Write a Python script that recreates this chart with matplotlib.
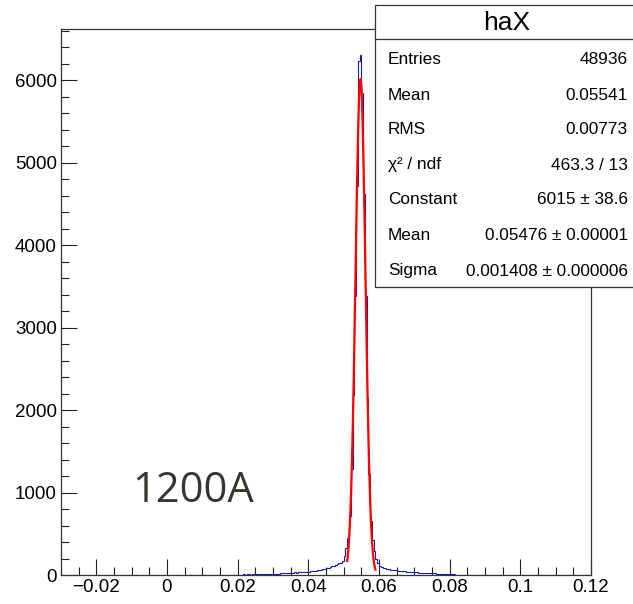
import numpy as np
import matplotlib
matplotlib.use("Agg")
from matplotlib import pyplot as plt
from matplotlib.patches import Rectangle
from matplotlib.lines import Line2D
from matplotlib.ticker import MultipleLocator

# histogram haX: 300 bins from -0.03 to 0.12
x_min, x_max, n_bins = -0.03, 0.12, 300
counts = [
    # -0.03 .. -0.02
    0, 0, 0, 0, 0, 0, 0, 0, 0, 0, 0, 0, 0, 0, 0, 0, 0, 0, 0, 0,
    # -0.02 .. -0.01
    0, 0, 0, 0, 0, 0, 0, 0, 0, 0, 0, 0, 0, 0, 0, 0, 0, 0, 0, 0,
    # -0.01 .. 0
    0, 0, 1, 0, 0, 0, 0, 0, 0, 0, 0, 0, 0, 0, 0, 0, 0, 0, 0, 0,
    # 0 .. 0.01
    0, 0, 0, 0, 0, 1, 0, 0, 0, 0, 1, 0, 0, 1, 0, 1, 0, 0, 0, 0,
    # 0.01 .. 0.02
    2, 3, 2, 4, 3, 2, 3, 4, 3, 2, 4, 3, 5, 3, 4, 4, 3, 5, 4, 5,
    # 0.02 .. 0.03
    5, 6, 4, 7, 6, 8, 7, 6, 9, 8, 7, 10, 9, 11, 10, 12, 11, 13, 12, 14,
    # 0.03 .. 0.04
    15, 16, 18, 17, 20, 21, 22, 24, 23, 26, 28, 30, 31, 29, 33, 34, 36, 35, 38, 40,
    # 0.04 .. 0.05
    42, 45, 47, 50, 54, 58, 62, 66, 72, 78, 84, 90, 97, 104, 112, 120, 130, 140, 150, 175,
    # 0.05 .. 0.06
    230, 330, 450, 720, 1290, 2180, 3380, 4720, 6230, 6310,
    5850, 4620, 3380, 2150, 1230, 650, 420, 290, 200, 140,
    # 0.06 .. 0.07
    105, 92, 85, 80, 75, 70, 66, 62, 58, 55, 52, 50, 47, 45, 43, 41, 39, 37, 35, 33,
    # 0.07 .. 0.08
    32, 31, 30, 28, 27, 26, 25, 24, 23, 22, 21, 20, 18, 17, 15, 14, 12, 11, 10, 9,
    # 0.08 .. 0.09
    8, 7, 7, 6, 6, 5, 6, 5, 5, 4, 5, 4, 4, 5, 3, 4, 4, 3, 4, 3,
    # 0.09 .. 0.1
    3, 4, 3, 3, 2, 3, 3, 2, 3, 2, 3, 2, 2, 3, 2, 2, 3, 2, 2, 2,
    # 0.1 .. 0.11
    2, 2, 1, 2, 2, 1, 2, 1, 2, 1, 2, 1, 1, 2, 1, 1, 2, 1, 1, 1,
    # 0.11 .. 0.12
    1, 1, 2, 1, 1, 0, 1, 1, 0, 1, 1, 0, 1, 1, 0, 1, 0, 1, 1, 0,
]
first_filled = 80  # continuous line starts at x = 0.01

# gaussian fit
fit_const = 6015.0
fit_mean = 0.05476
fit_sigma = 0.001408
fit_range = (0.051, 0.059)

x_ticks = [-0.02, 0, 0.02, 0.04, 0.06, 0.08, 0.1, 0.12]
x_tick_labels = ["\u22120.02", "0", "0.02", "0.04", "0.06", "0.08", "0.1", "0.12"]
y_ticks = [0, 1000, 2000, 3000, 4000, 5000, 6000]
y_max = 6620

stats_title = "haX"
stats_labels = ["Entries", "Mean", "RMS", "\u03c7\u00b2 / ndf", "Constant", "Mean", "Sigma"]
stats_values = ["48936", "0.05541", "0.00773", "463.3 / 13",
                "6015 \u00b1 38.6", "0.05476 \u00b1 0.00001", "0.001408 \u00b1 0.000006"]
note = "1200A"

W, H = 633, 604
plt.rcParams["font.family"] = ["Liberation Sans", "DejaVu Sans"]

fig = plt.figure(figsize=(W / 100, H / 100), dpi=100)
ax = fig.add_axes([61 / W, 1 - 575 / H, 530 / W, 546 / H])

counts = np.array(counts, dtype=float)
edges = np.linspace(x_min, x_max, n_bins + 1)
hist_color = "#1c1c9c"

ax.stairs(counts[first_filled:], edges[first_filled:], color=hist_color,
          lw=0.8, zorder=3, baseline=None)
for i in range(first_filled):
    if counts[i] > 0:
        ax.hlines(counts[i], edges[i], edges[i + 1], color=hist_color, lw=1.0, zorder=3)

xf = np.linspace(fit_range[0], fit_range[1], 100)
yf = fit_const * np.exp(-0.5 * ((xf - fit_mean) / fit_sigma) ** 2)
ax.plot(xf, yf, color="red", lw=1.6, zorder=4)

ax.set_xlim(x_min, x_max)
ax.set_ylim(0, y_max)
ax.set_xticks(x_ticks)
ax.set_xticklabels(x_tick_labels)
ax.set_yticks(y_ticks)
ax.xaxis.set_minor_locator(MultipleLocator(0.005))
ax.yaxis.set_minor_locator(MultipleLocator(200))
ax.tick_params(which="both", direction="in", top=False, right=False,
               color="#222222", width=0.8, labelsize=13.5)
ax.tick_params(which="major", length=11.5)
ax.tick_params(which="minor", length=5.8)
ax.tick_params(axis="x", pad=3)
ax.tick_params(axis="y", pad=3)
for s in ax.spines.values():
    s.set_color("#333333")
    s.set_linewidth(0.9)

# stats box
def fx(px):
    return px / W

def fy(py):
    return 1 - py / H

box = Rectangle((fx(375), fy(287)), fx(650) - fx(375), fy(5) - fy(287),
                transform=fig.transFigure, facecolor="white", edgecolor="#333333",
                lw=0.9, zorder=10)
fig.add_artist(box)
fig.add_artist(Line2D([fx(375), fx(650)], [fy(39), fy(39)], transform=fig.transFigure,
                      color="#333333", lw=0.9, zorder=11))
fig.text(fx(507), fy(23), stats_title, ha="center", va="center", fontsize=19, zorder=12)
row_y = [60, 95, 130, 165, 200, 236, 271]
for lab, val, yy in zip(stats_labels, stats_values, row_y):
    fig.text(fx(388), fy(yy), lab, ha="left", va="center", fontsize=12.4, zorder=12)
    fig.text(fx(628), fy(yy), val, ha="right", va="center", fontsize=12.4, zorder=12)

fig.text(fx(132), fy(502), note, ha="left", va="baseline", fontsize=30,
         family=["Open Sans", "DejaVu Sans"], color="#36352f")

plt.savefig("out.png", dpi=100)
plt.close()
